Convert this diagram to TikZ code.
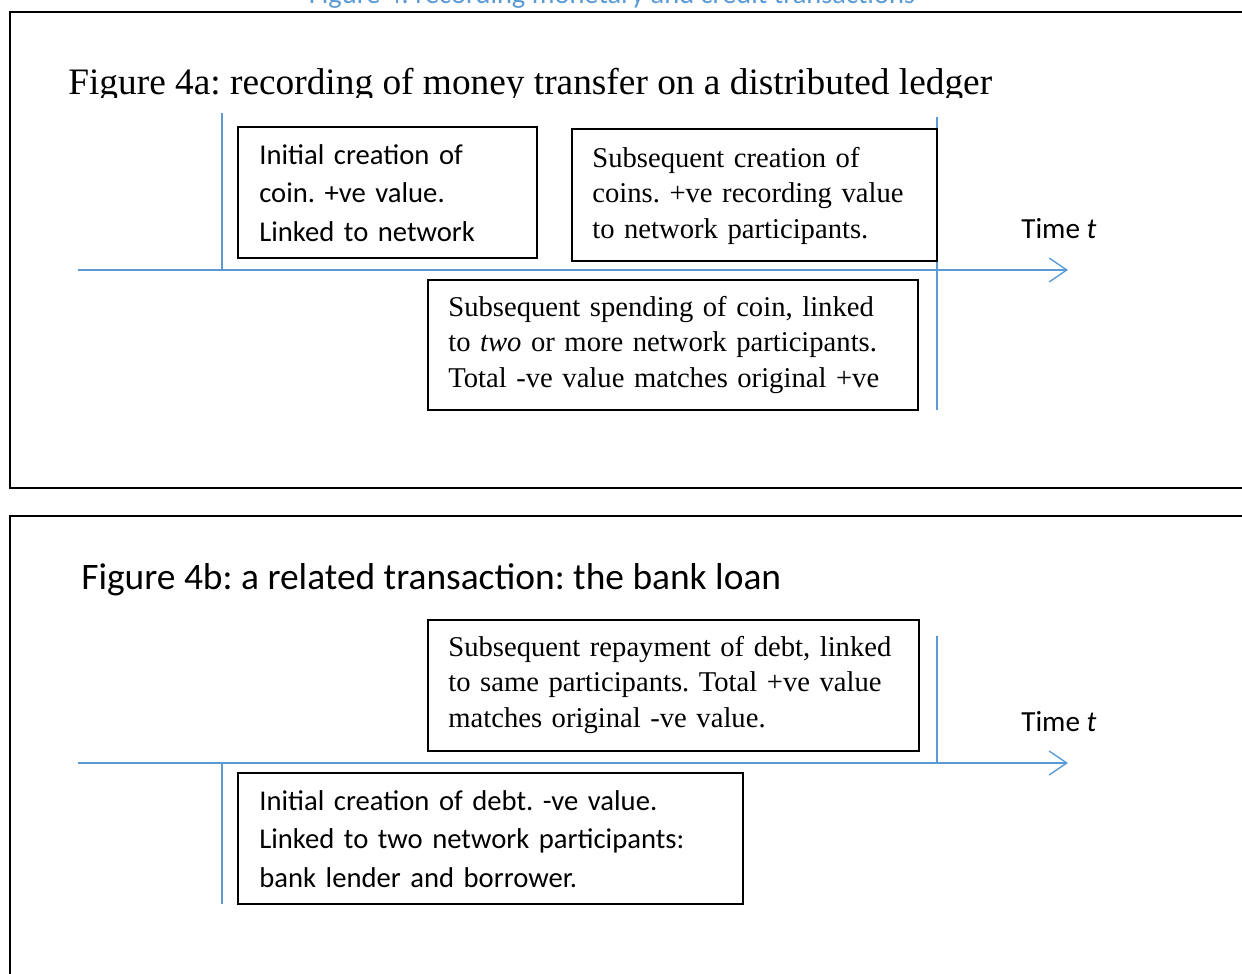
\documentclass[tikz,border=0pt]{standalone}
\usepackage{fontspec}
\setmainfont{Liberation Serif}
\newfontfamily\carlito{Carlito}
\usetikzlibrary{arrows.meta}
\definecolor{wordblue}{RGB}{91,155,213}
\frenchspacing

\begin{document}
\begin{tikzpicture}[x=0.02cm,y=-0.02cm,
  frameline/.style={line width=1.2pt},
  boxline/.style={line width=0.9pt},
  timeline/.style={wordblue,line width=0.8pt},
  timearrow/.style={timeline,-{Straight Barb[length=10pt,width=13.6pt]}},
  serifbox/.style={anchor=base west,inner sep=0pt,text width=#1,align=left,
    font=\fontsize{16.3}{20.3}\selectfont},
  sansbox/.style={anchor=base west,inner sep=0pt,text width=#1,align=left,
    font=\carlito\fontsize{16.3}{22.1}\selectfont},
  timelabel/.style={anchor=base west,inner sep=0pt,
    font=\carlito\fontsize{16.6}{20}\selectfont},
  titletext/.style={anchor=base west,inner sep=0pt,
    font=\fontsize{21.25}{25}\selectfont}]
\useasboundingbox (0,0) rectangle (1242,974);

% caption cut off at the top
\node[anchor=base,inner sep=0pt,text=wordblue,
  font=\carlito\fontsize{16.2}{19}\selectfont] (figcaption) at (612,3)
  {Figure 4: recording monetary and credit transactions};

% figure 4a
\draw[frameline] (10,12) rectangle (1270,488);
\begin{scope}
\clip (0,14) rectangle (1242,97);
\node[titletext] (titlea) at (68,94)
  {Figure 4a: recording of money transfer on a distributed ledger};
\end{scope}
\coordinate (starta) at (78,270);
\coordinate (enda) at (1068,270);
\draw[timearrow] (starta) -- (enda);
\draw[timeline] (222,113) -- (222,270);
\draw[timeline] (937,117) -- (937,410);

\draw[boxline] (238,127) rectangle (537,258);
\node[sansbox=5.4cm] (coinnew) at (259,164)
  {Initial creation of\\coin. +ve value.\\Linked to network};
\draw[boxline] (572,129) rectangle (937,261);
\node[serifbox=6.8cm] (coinmore) at (592,167)
  {Subsequent creation of\\coins. +ve recording value\\to network participants.};
\draw[boxline] (428,280) rectangle (918,410);
\node[serifbox=9.4cm] (coinspend) at (448,316)
  {Subsequent spending of coin, linked\\to \textit{two} or more network participants.\\Total -ve value matches original +ve};
\node[timelabel] (timea) at (1021,238) {Time \textit{t}};

% figure 4b
\draw[frameline] (10,516) rectangle (1270,990);
\node[titletext,font=\carlito\fontsize{21.3}{25}\selectfont] (titleb) at (81,589)
  {Figure 4b: a related transaction: the bank loan};
\coordinate (startb) at (78,763);
\coordinate (endb) at (1068,763);
\draw[timearrow] (startb) -- (endb);
\draw[timeline] (222,763) -- (222,904);
\draw[timeline] (937,636) -- (937,763);

\draw[boxline] (428,620) rectangle (919,751);
\node[serifbox=9.4cm] (debtrepay) at (448,656)
  {Subsequent repayment of debt, linked\\to same participants. Total +ve value\\matches original -ve value.};
\draw[boxline] (238,773) rectangle (743,904);
\node[sansbox=9.4cm] (debtnew) at (259,810)
  {Initial creation of debt. -ve value.\\Linked to two network participants:\\bank lender and borrower.};
\node[timelabel] (timeb) at (1021,731) {Time \textit{t}};
\end{tikzpicture}
\end{document}
